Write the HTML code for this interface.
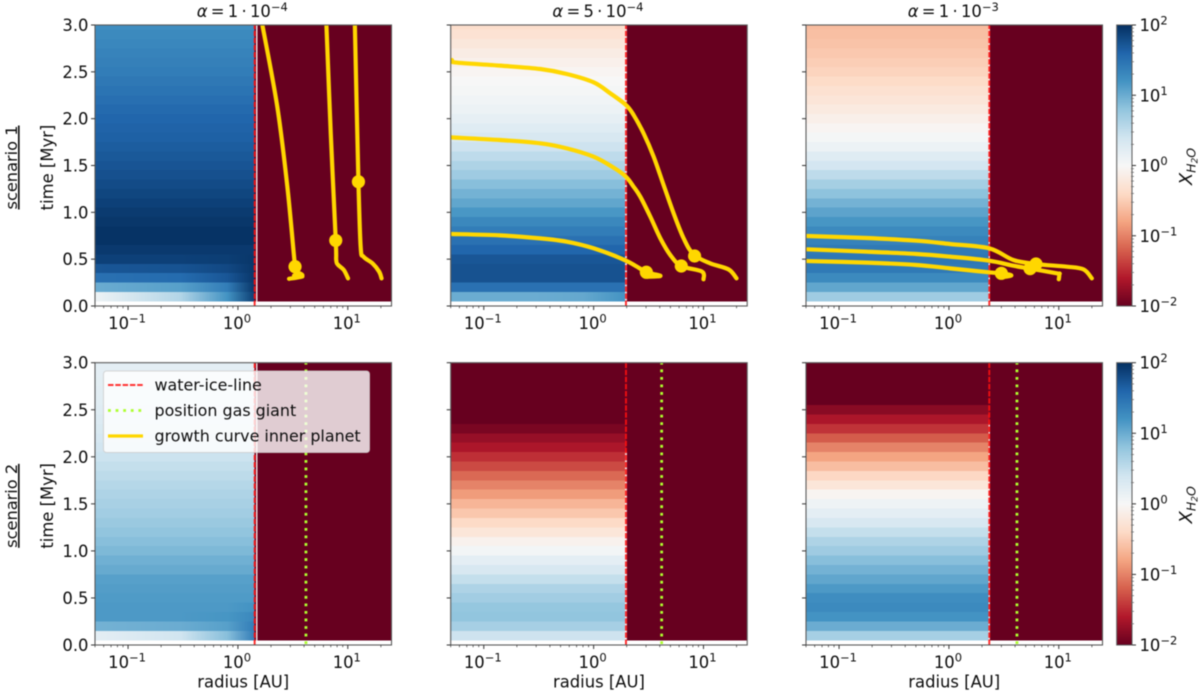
<!DOCTYPE html>
<html>
<head>
<meta charset="utf-8">
<title>Water content over time</title>
<style>
html,body{margin:0;padding:0;background:#fff;}
#chart{display:block;width:1200px;height:693px;filter:blur(0.45px);}
text{font-family:"DejaVu Sans","Liberation Sans",sans-serif;fill:#0d0d0d;}
</style>
</head>
<body>
<svg id="chart" xmlns="http://www.w3.org/2000/svg" width="1200" height="693" viewBox="0 0 1200 693">
<defs id="defs"></defs>
<g id="plots"></g>
</svg>
<script>
// time grid in Myr (row centres)
const timeGrid = [0.1,0.2,0.3,0.4,0.5,0.6,0.7,0.8,0.9,1.0,1.1,1.2,1.3,1.4,1.5,1.6,1.7,1.8,1.9,2.0,2.1,2.2,2.3,2.4,2.5,2.6,2.7,2.8,2.9,3.0];
// radii (AU) where rows with radial structure are sampled; the last one is the ice line
const sampleRadii = [0.05,0.3,0.8];
// log10 of X_H2O inside the ice line, bottom row first
const logXA = [[0.1,0.6,1.2,1.9],[1,1.1,1.4,1.95],[1.5,1.55,1.72,1.95],[1.72,1.74,1.82,1.95],[1.88,1.88,1.9,1.95],1.93,1.98,1.98,1.95,1.92,1.88,1.84,1.8,1.76,1.73,1.7,1.67,1.64,1.62,1.6,1.56,1.52,1.48,1.44,1.4,1.37,1.34,1.31,1.28,1.25];
const logXB = [[1,1,1.03,1.2],1.5,1.75,1.75,1.72,1.6,1.5,1.4,1.3,1.17,1.05,0.95,0.85,0.72,0.62,0.52,0.42,0.33,0.25,0.18,0.12,0.07,0.03,0,-0.04,-0.1,-0.16,-0.23,-0.3,-0.36];
const logXC = [0.72,1.05,1.28,1.42,1.45,1.42,1.35,1.28,1.18,1.07,0.95,0.82,0.68,0.52,0.37,0.25,0.12,0.03,-0.04,-0.12,-0.19,-0.26,-0.32,-0.39,-0.45,-0.5,-0.54,-0.58,-0.61,-0.63];
const logXD = [[0.2,0.4,0.85,1.4],[0.95,1,1.1,1.4],[1.15,1.15,1.18,1.3],[1.15,1.15,1.15,1.2],1.14,1.12,1.1,1.02,0.97,0.9,0.85,0.8,0.75,0.7,0.66,0.62,0.58,0.53,0.48,0.43,0.39,0.35,0.32,0.28,0.25,0.23,0.22,0.21,0.2,0.2];
const logXE = [0.42,0.67,0.8,0.78,0.7,0.62,0.48,0.33,0.2,0.05,-0.08,-0.25,-0.4,-0.55,-0.68,-0.85,-1,-1.15,-1.32,-1.47,-1.63,-1.75,-1.9,-2,-2,-2,-2,-2,-2,-2];
const logXF = [0.67,1,1.2,1.28,1.25,1.15,1.05,0.95,0.85,0.72,0.62,0.48,0.33,0.2,0.1,-0.05,-0.25,-0.42,-0.62,-0.8,-1,-1.22,-1.45,-1.63,-1.82,-2,-2,-2,-2,-2];
// log10 X outside the ice line
const logXOuter = -2;
// ice-line radii (AU) per alpha, gas-giant radius (AU)
const iceLines = [1.42,1.97,2.33];
const gasGiantRadius = 4.16;
// colormap anchors (RdBu) from 10^-2 to 10^2
const cmapColors = ["#67001f","#b2182b","#d6604d","#f4a582","#fddbc7","#f7f7f7","#d1e5f0","#92c5de","#4393c3","#2166ac","#053061"];
// growth curves: radius (AU), time (Myr)
const curveA1r = [1.67,2.28,2.82,3.31,3.4,3.86,3.24,3.86,2.92];
const curveA1t = [3,2.13,1.27,0.42,0.37,0.33,0.325,0.315,0.29];
const curveA2r = [6.39,7.0,7.77,7.85,8.15,9.2,10.05];
const curveA2t = [3,1.84,0.7,0.49,0.44,0.385,0.295];
const curveA3r = [11.6,12.5,13.1,13.9,16.8,19.3,20.3];
const curveA3t = [3,1.327,0.63,0.527,0.455,0.367,0.295];
const curveB1r = [0.0513,0.055,0.141,0.327,0.57,1,1.42,1.97,2.31,2.85,3.52,4.34,5.35,6.6,8.13,11.5,16.9,20];
const curveB1t = [2.626,2.6,2.566,2.53,2.477,2.388,2.27,2.146,2.04,1.843,1.594,1.29,0.989,0.722,0.55,0.456,0.391,0.295];
const curveB2r = [0.0513,0.141,0.327,0.57,1,1.52,1.97,2.31,2.66,3.28,4.05,4.99,6.28,9.7,10];
const curveB2t = [1.8,1.772,1.737,1.683,1.594,1.477,1.38,1.274,1.167,0.954,0.722,0.544,0.427,0.367,0.285];
const curveB3r = [0.0513,0.141,0.327,0.57,1,1.97,3.02,3.5,4.05,3.06];
const curveB3t = [0.769,0.754,0.722,0.687,0.616,0.484,0.36,0.342,0.32,0.313];
const curveC1r = [0.0513,0.178,0.507,1.02,2.32,3.86,6.2,11.8,16.8,20];
const curveC1t = [0.747,0.726,0.697,0.662,0.616,0.491,0.448,0.42,0.391,0.295];
const curveC2r = [0.0513,0.178,0.507,1.02,2.32,3.86,5.48,9.6,10.1,10];
const curveC2t = [0.605,0.58,0.555,0.527,0.484,0.43,0.399,0.349,0.342,0.285];
const curveC3r = [0.0513,0.178,0.507,1.02,2.32,3,3.7,3.02];
const curveC3t = [0.48,0.463,0.438,0.402,0.36,0.349,0.327,0.306];
// planet markers on the curves
const markerAr = [3.31,7.77,12.5];
const markerAt = [0.42,0.7,1.327];
const markerBr = [8.3,6.28,3.02];
const markerBt = [0.534,0.427,0.36];
const markerCr = [6.2,5.48,3];
const markerCt = [0.448,0.399,0.349];
// tick labels
const yTickValues = [0,0.5,1,1.5,2,2.5,3];
const yTickLabels = ["0.0","0.5","1.0","1.5","2.0","2.5","3.0"];
const xTickExponents = [-1,0,1];
const cbarExponents = [-2,-1,0,1,2];
const alphaMantissas = ["1","5","1"];
const alphaExponents = ["\u22124","\u22124","\u22123"];

const SVGNS = "http://www.w3.org/2000/svg";
const RMIN = 0.05, RMAX = 25, TMAX = 3;
const columnLefts = [95,450.7,806];
const panelWidth = 296.5;
const rowTops = [25,362.7];
const rowHeights = [281,282.3];
const cbarLeft = 1116.7, cbarWidth = 15.3;
const SPINE = "#5a5a5a", TICK = "#333";
const FONT = 16.4;
const plots = document.getElementById("plots");
const defs = document.getElementById("defs");

function el(tag, attrs, parent) {
  const e = document.createElementNS(SVGNS, tag);
  for (const k in attrs) e.setAttribute(k, attrs[k]);
  (parent || plots).appendChild(e);
  return e;
}
function xAxis(col, r) {
  return columnLefts[col] + (Math.log10(r) - Math.log10(RMIN)) / (Math.log10(RMAX) - Math.log10(RMIN)) * panelWidth;
}
function yAxis(row, t) {
  return rowTops[row] + rowHeights[row] * (1 - t / TMAX);
}
function hexToRgb(h) {
  return [parseInt(h.slice(1,3),16),parseInt(h.slice(3,5),16),parseInt(h.slice(5,7),16)];
}
function colorFor(logX) {
  const f = Math.max(0, Math.min(1, (logX + 2) / 4)) * (cmapColors.length - 1);
  const i = Math.min(cmapColors.length - 2, Math.floor(f));
  const a = hexToRgb(cmapColors[i]), b = hexToRgb(cmapColors[i + 1]), u = f - i;
  return "rgb(" + a.map((v, n) => Math.round(v + (b[n] - v) * u)).join(",") + ")";
}
function smoothPath(col, row, rs, ts) {
  const p = rs.map((r, i) => [xAxis(col, r), yAxis(row, ts[i])]);
  let d = "M" + p[0][0].toFixed(2) + " " + p[0][1].toFixed(2);
  for (let i = 0; i < p.length - 1; i++) {
    const p0 = p[Math.max(0, i - 1)], p1 = p[i], p2 = p[i + 1], p3 = p[Math.min(p.length - 1, i + 2)];
    const c1 = [p1[0] + (p2[0] - p0[0]) / 6, p1[1] + (p2[1] - p0[1]) / 6];
    const c2 = [p2[0] - (p3[0] - p1[0]) / 6, p2[1] - (p3[1] - p1[1]) / 6];
    d += "C" + c1[0].toFixed(2) + " " + c1[1].toFixed(2) + " " + c2[0].toFixed(2) + " " + c2[1].toFixed(2) + " " + p2[0].toFixed(2) + " " + p2[1].toFixed(2);
  }
  return d;
}
function powerLabel(x, y, anchor, exponent, parent) {
  const t = el("text", {x: x, y: y, "text-anchor": anchor, "font-size": FONT}, parent);
  
  
  t.appendChild(document.createTextNode("10"));
  const s = el("tspan", {dy: -6.5, "font-size": 11.5}, t);
  s.textContent = String(exponent).replace("-", "\u2212");
  return t;
}

function drawHeat(group, col, row, values, ice, id) {
  const xL = xAxis(col, RMIN), xIce = xAxis(col, ice), xR = xAxis(col, RMAX);
  timeGrid.forEach((t, i) => {
    const yTop = yAxis(row, Math.min(TMAX, t + 0.05));
    const yBot = yAxis(row, t - 0.05);
    const v = values[i];
    let fill;
    if (Array.isArray(v)) {
      const gid = "grad-" + id + "-" + i;
      const g = el("linearGradient", {id: gid, gradientUnits: "userSpaceOnUse", x1: xL, x2: xIce, y1: 0, y2: 0}, defs);
      sampleRadii.concat([ice]).forEach((r, k) => {
        el("stop", {offset: ((xAxis(col, r) - xL) / (xIce - xL)).toFixed(4), "stop-color": colorFor(v[k])}, g);
      });
      fill = "url(#" + gid + ")";
    } else {
      fill = colorFor(v);
    }
    const cell = el("rect", {x: xL, y: yTop, width: xIce - xL, height: yBot - yTop, fill: fill, "shape-rendering": "crispEdges"}, group);
    
    
    const outer = el("rect", {x: xIce, y: yTop, width: xR - xIce, height: yBot - yTop, fill: colorFor(logXOuter), "shape-rendering": "crispEdges"}, group);
    
    
    const rowValue = Array.isArray(v) ? v[v.length - 1] : v;
    if (rowValue > -1.5) {
      const edgeX = col === 0 ? xIce + 1.2 : xIce - 0.8;
      const edge = el("rect", {x: edgeX, y: yTop, width: 1.6, height: yBot - yTop, fill: "#fff", "fill-opacity": 0.85, "shape-rendering": "crispEdges"}, group);
      
      
    }
  });
}

function drawAxes(group, col, row, showY, showXLabel) {
  const xL = columnLefts[col], xR = xL + panelWidth, yT = rowTops[row], yB = yT + rowHeights[row];
  const frame = el("rect", {x: xL, y: yT, width: panelWidth, height: rowHeights[row], fill: "none", stroke: SPINE, "stroke-width": 1.1}, group);
  
  
  yTickValues.forEach((t, i) => {
    const y = yAxis(row, t);
    const tick = el("line", {x1: xL - 4, x2: xL, y1: y, y2: y, stroke: TICK, "stroke-width": 1}, group);
    
    
    if (showY) {
      const lab = el("text", {x: xL - 6.5, y: y + 6, "text-anchor": "end", "font-size": FONT}, group);
      
      
      lab.textContent = yTickLabels[i];
    }
  });
  for (let e = -2; e <= 1; e++) {
    for (let m = 1; m <= 9; m++) {
      const r = m * Math.pow(10, e);
      if (r < RMIN || r > RMAX) continue;
      const x = xAxis(col, r);
      const tick = el("line", {x1: x, x2: x, y1: yB, y2: yB + (m === 1 ? 4 : 2.2), stroke: TICK, "stroke-width": m === 1 ? 1 : 0.7}, group);
      
      
    }
  }
  xTickExponents.forEach(e => {
    powerLabel(xAxis(col, Math.pow(10, e)) - 1, yB + 23, "middle", e, group);
  });
  if (showXLabel) {
    const xl = el("text", {x: xL + panelWidth / 2, y: yB + 42.5, "text-anchor": "middle", "font-size": FONT}, group);
    
    
    xl.textContent = "radius [AU]";
  }
}

function drawColorbar(row) {
  const g = el("g", {});
  
  
  const yT = rowTops[row], h = rowHeights[row];
  const gid = "cbar-grad-" + row;
  const grad = el("linearGradient", {id: gid, x1: 0, x2: 0, y1: 1, y2: 0}, defs);
  cmapColors.forEach((c, i) => {
    el("stop", {offset: i / (cmapColors.length - 1), "stop-color": c}, grad);
  });
  const bar = el("rect", {x: cbarLeft, y: yT, width: cbarWidth, height: h, fill: "url(#" + gid + ")", stroke: SPINE, "stroke-width": 1}, g);
  
  
  const yOf = lg => yT + h * (1 - (lg + 2) / 4);
  cbarExponents.forEach((e, idx) => {
    const y = yOf(e);
    const tick = el("line", {x1: cbarLeft + cbarWidth, x2: cbarLeft + cbarWidth + 4, y1: y, y2: y, stroke: TICK, "stroke-width": 1}, g);
    
    
    powerLabel(cbarLeft + cbarWidth + 7.5, y + 6, "start", e, g);
    if (idx < cbarExponents.length - 1) {
      for (let m = 2; m <= 9; m++) {
        const ym = yOf(e + Math.log10(m));
        const mt = el("line", {x1: cbarLeft + cbarWidth - 1, x2: cbarLeft + cbarWidth + 2, y1: ym, y2: ym, stroke: "#666", "stroke-width": 0.7}, g);
        
        
      }
    }
  });
  const cy = yT + h / 2 + 1;
  const lab = el("text", {transform: "translate(1192 " + cy + ") rotate(-90)", "text-anchor": "middle", "font-size": 18, "font-style": "italic"}, g);
  
  
  lab.appendChild(document.createTextNode("X"));
  const s1 = el("tspan", {dy: 3.5, "font-size": 12.5}, lab);
  s1.textContent = "H";
  const s2 = el("tspan", {dy: 2, "font-size": 9}, lab);
  s2.textContent = "2";
  const s3 = el("tspan", {dy: -2, "font-size": 12.5}, lab);
  s3.textContent = "O";
}

function drawPanel(col, row, values, curves, markers) {
  const id = "p" + row + col;
  const g = el("g", {});
  
  
  const clip = el("clipPath", {id: "clip-" + id}, defs);
  el("rect", {x: columnLefts[col], y: rowTops[row], width: panelWidth, height: rowHeights[row]}, clip);
  const heat = el("g", {}, g);
  
  
  drawHeat(heat, col, row, values, iceLines[col], id);
  const xIce = xAxis(col, iceLines[col]);
  const yT = rowTops[row], yB = yT + rowHeights[row];
  const ice = el("line", {x1: xIce, x2: xIce, y1: yB, y2: yT, stroke: "#ff1010", "stroke-opacity": 0.9, "stroke-width": 1.9, "stroke-dasharray": "5.5 1.6"}, g);
  
  
  if (row === 1) {
    const xG = xAxis(col, gasGiantRadius);
    const giant = el("line", {x1: xG, x2: xG, y1: yB - 1, y2: yT, stroke: "#adff2f", "stroke-width": 2.8, "stroke-dasharray": "2.8 4.75"}, g);
    
    
  }
  const cg = el("g", {"clip-path": "url(#clip-" + id + ")"}, g);
  
  
  curves.forEach(c => {
    const path = el("path", {d: smoothPath(col, row, c[0], c[1]), fill: "none", stroke: "#ffd700", "stroke-width": 4.2, "stroke-linejoin": "round", "stroke-linecap": "round"}, cg);
    
    
  });
  if (markers) {
    markers[0].forEach((r, i) => {
      const m = el("circle", {cx: xAxis(col, r), cy: yAxis(row, markers[1][i]), r: 6.6, fill: "#ffd700"}, cg);
      
      
    });
  }
  drawAxes(g, col, row, col === 0, row === 1);
  if (row === 0) {
    const title = el("text", {x: columnLefts[col] + panelWidth / 2 - 1, y: 17, "text-anchor": "middle", "font-size": FONT}, g);
    
    
    const a = el("tspan", {"font-style": "italic"}, title);
    a.textContent = "\u03B1";
    title.appendChild(document.createTextNode("\u2009=\u2009" + alphaMantissas[col] + "\u2009\u00B7\u200910"));
    const e = el("tspan", {dy: -6, "font-size": 11.5}, title);
    e.textContent = alphaExponents[col];
  }
}

function rowLabels(row, scenarioText) {
  const cy = rowTops[row] + rowHeights[row] / 2 + 2;
  const yl = el("text", {transform: "translate(53 " + cy + ") rotate(-90)", "text-anchor": "middle", "font-size": FONT});
  
  
  yl.textContent = "time [Myr]";
  const sl = el("text", {transform: "translate(17 " + cy + ") rotate(-90)", "text-anchor": "middle", "font-size": 16.2, "text-decoration": "underline"});
  
  
  sl.textContent = scenarioText;
}

function drawLegend() {
  const g = el("g", {});
  
  
  const box = el("rect", {x: 103.5, y: 371, width: 266, height: 81.5, rx: 3, fill: "#fff", "fill-opacity": 0.8, stroke: "#ccc", "stroke-opacity": 0.8, "stroke-width": 1}, g);
  
  
  const entries = [
    {y: 385, label: "water-ice-line", stroke: "#ff3333", w: 2, dash: "5.5 1.8", name: "legend-entry-ice-line"},
    {y: 410.5, label: "position gas giant", stroke: "#adff2f", w: 2.8, dash: "2.8 4.8", name: "legend-entry-gas-giant"},
    {y: 436, label: "growth curve inner planet", stroke: "#ffd700", w: 3.2, dash: "none", name: "legend-entry-growth-curve"}
  ];
  entries.forEach(en => {
    const h = el("line", {x1: 108, x2: 143, y1: en.y, y2: en.y, stroke: en.stroke, "stroke-width": en.w, "stroke-dasharray": en.dash}, g);
    
    
    const t = el("text", {x: 154.5, y: en.y + 5.5, "font-size": 15.9}, g);
    
    
    t.textContent = en.label;
  });
}

drawPanel(0, 0, logXA, [[curveA1r,curveA1t],[curveA2r,curveA2t],[curveA3r,curveA3t]], [markerAr,markerAt]);
drawPanel(1, 0, logXB, [[curveB1r,curveB1t],[curveB2r,curveB2t],[curveB3r,curveB3t]], [markerBr,markerBt]);
drawPanel(2, 0, logXC, [[curveC1r,curveC1t],[curveC2r,curveC2t],[curveC3r,curveC3t]], [markerCr,markerCt]);
drawPanel(0, 1, logXD, [], null);
drawPanel(1, 1, logXE, [], null);
drawPanel(2, 1, logXF, [], null);
drawColorbar(0);
drawColorbar(1);
rowLabels(0, "scenario 1");
rowLabels(1, "scenario 2");
drawLegend();
</script>
</body>
</html>
